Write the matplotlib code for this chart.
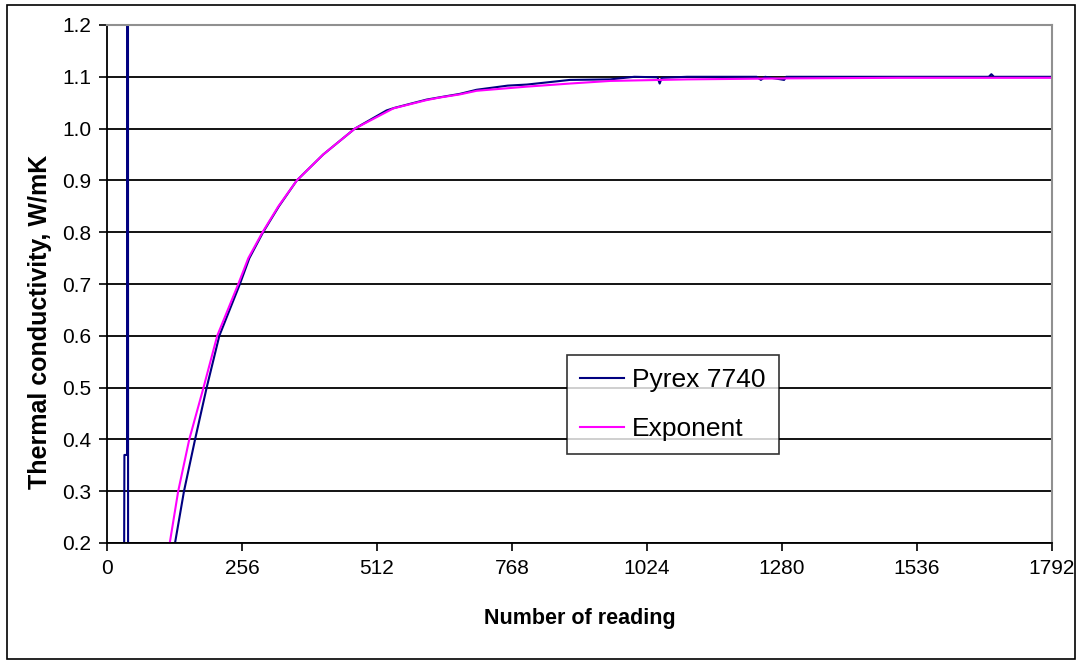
import matplotlib
matplotlib.use('Agg')
import matplotlib.pyplot as plt
from matplotlib.patches import Rectangle

plt.rcParams['font.family'] = ['Liberation Sans', 'DejaVu Sans']

pyrex_x = [0, 32, 33, 38, 39, 40, 100, 129, 146, 167, 189, 213, 252, 270, 296, 326,
           360, 410, 470, 530, 545, 606, 640, 669, 701, 760, 796, 878, 954, 1000,
           1044, 1048, 1052, 1100, 1232, 1240, 1248, 1284, 1288, 1500, 1672, 1677,
           1682, 1792]
pyrex_y = [0.0, 0.0, 0.37, 0.37, 6.0, 0.0, 0.0, 0.20, 0.30, 0.40, 0.50, 0.60, 0.70,
           0.75, 0.80, 0.85, 0.90, 0.95, 1.00, 1.035, 1.04, 1.056, 1.062, 1.067,
           1.075, 1.083, 1.085, 1.094, 1.095, 1.100, 1.099, 1.087, 1.098, 1.100,
           1.100, 1.094, 1.100, 1.094, 1.100, 1.100, 1.100, 1.105, 1.100, 1.100]

# exponential fit
exp_x = [119, 135, 156, 183, 209, 249, 268, 295, 325, 360, 410, 470, 543, 606, 631,
         669, 701, 796, 878, 954, 1100, 1295, 1500, 1792]
exp_y = [0.20, 0.30, 0.40, 0.50, 0.60, 0.70, 0.75, 0.80, 0.85, 0.90, 0.95, 1.00,
         1.039, 1.055, 1.060, 1.066, 1.073, 1.081, 1.087, 1.092, 1.095, 1.097,
         1.098, 1.098]

x_ticks = [0, 256, 512, 768, 1024, 1280, 1536, 1792]
y_ticks = [0.2, 0.3, 0.4, 0.5, 0.6, 0.7, 0.8, 0.9, 1.0, 1.1, 1.2]

fig = plt.figure(figsize=(10.78, 6.63), dpi=100)
ax = fig.add_axes([107 / 1078, 1 - 543 / 663, 945 / 1078, 518 / 663])

ax.plot(pyrex_x, pyrex_y, color='#000080', lw=1.5, label='Pyrex 7740')
ax.plot(exp_x, exp_y, color='#ff00ff', lw=1.5, label='Exponent')

ax.set_xlim(0, 1792)
ax.set_ylim(0.2, 1.2)
ax.set_xticks(x_ticks)
ax.set_yticks(y_ticks)
ax.set_yticklabels(['%.1f' % v for v in y_ticks])
ax.tick_params(direction='out', length=5.5, width=1.2, labelsize=15, pad=6)

ax.grid(axis='y', color='black', lw=1.3)
ax.set_axisbelow(True)
for s in ['left', 'bottom']:
    ax.spines[s].set_color('black')
    ax.spines[s].set_linewidth(1.3)
for s in ['top', 'right']:
    ax.spines[s].set_color('#909090')
    ax.spines[s].set_linewidth(1.5)

ax.set_xlabel('Number of reading', fontsize=15.5, fontweight='bold')
ax.xaxis.set_label_coords(0.5005, -0.125)
ax.set_ylabel('Thermal conductivity, W/mK', fontsize=18, fontweight='bold')
ax.yaxis.set_label_coords(-0.058, 0.426)

leg = ax.legend(loc='upper left', bbox_to_anchor=(0.487, 0.363), borderaxespad=0,
                fontsize=19, frameon=True, fancybox=False, handlelength=1.65,
                handletextpad=0.3, labelspacing=0.95, borderpad=0.5)
leg.get_frame().set_edgecolor('black')
leg.get_frame().set_linewidth(1.2)
for line in leg.get_lines():
    line.set_linewidth(1.5)

# outer chart frame
fig.patches.append(Rectangle((7 / 1078, 1 - 659 / 663), 1068 / 1078, 654 / 663,
                             transform=fig.transFigure, fill=False,
                             edgecolor='black', lw=1.2))

fig.savefig('out.png', dpi=100)
